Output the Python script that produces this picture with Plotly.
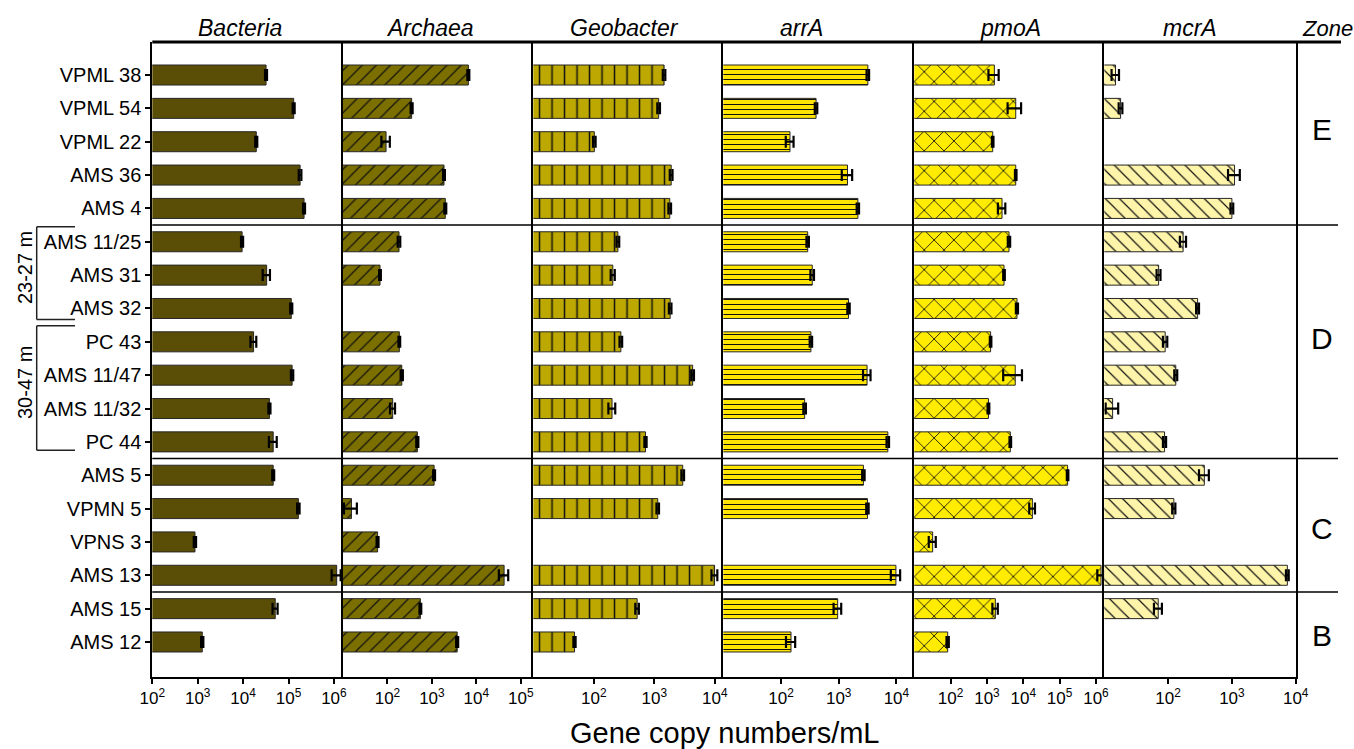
import plotly.graph_objects as go

W, H = 1354, 749
FONT = "Liberation Sans, Arial, sans-serif"

samples = ["VPML 38", "VPML 54", "VPML 22", "AMS 36", "AMS 4",
           "AMS 11/25", "AMS 31", "AMS 32", "PC 43", "AMS 11/47", "AMS 11/32", "PC 44",
           "AMS 5", "VPMN 5", "VPNS 3", "AMS 13",
           "AMS 15", "AMS 12"]

bacteria = [3.2e4, 1.3e5, 1.95e4, 1.8e5, 2.2e5, 9.5e3, 3.3e4, 1.15e5, 1.7e4, 1.2e5,
            3.8e4, 4.6e4, 4.6e4, 1.65e5, 870, 1.15e6, 5.1e4, 1.26e3]
bacteria_sd = [1.6e3, 6.5e3, 1.0e3, 1.2e4, 1.1e4, 500, 6.0e3, 6.0e3, 2.5e3, 7.0e3,
               2.0e3, 9.0e3, 2.3e3, 1.0e4, 50, 2.6e5, 6.5e3, 70]

archaea = [6.6e3, 350, 93, 1.87e3, 2.0e3, 182, 68, None, 185, 210,
           131, 470, 1.12e3, 15.5, 60, 4.2e4, 550, 3.7e3]
archaea_sd = [330, 18, 20, 90, 100, 12, 3, 0, 8, 12,
              17, 25, 55, 5, 3, 1.0e4, 25, 190]

geobacter = [1.45e3, 1.18e3, 102, 1.9e3, 1.8e3, 250, 206, 1.83e3, 280, 4.3e3,
             200, 715, 2.95e3, 1.14e3, None, 9.9e3, 520, 48]
geobacter_sd = [70, 60, 5, 100, 90, 13, 16, 90, 14, 220,
                26, 30, 150, 55, 0, 1.1e3, 35, 2]

arrA = [3.2e3, 405, 143, 1.42e3, 2.15e3, 290, 348, 1.48e3, 330, 3.1e3,
        257, 7.1e3, 2.68e3, 3.15e3, None, 9.8e3, 960, 149]
arrA_sd = [160, 20, 22, 290, 100, 14, 25, 70, 16, 460,
           13, 350, 130, 150, 0, 1.8e3, 145, 27]

pmoA = [1.6e3, 6.2e3, 1.44e3, 6.2e3, 2.6e3, 4.05e3, 2.95e3, 6.7e3, 1.26e3, 6.0e3,
        1.1e3, 4.4e3, 1.66e5, 1.78e4, 32, 1.38e6, 1.7e3, 83]
pmoA_sd = [500, 2.5e3, 70, 300, 600, 300, 150, 450, 60, 3.2e3,
           60, 220, 8.0e3, 3.2e3, 7, 2.9e5, 290, 6]

mcrA = [15, 18, None, 1.1e3, 1.0e3, 172, 71, 290, 90, 132,
        13.5, 88, 370, 123, None, 7.4e3, 70, None]
mcrA_sd = [2, 1.2, 0, 230, 50, 19, 5, 15, 7, 7,
           3, 5, 65, 7, 0, 370, 10, 0]

panel_titles = ["Bacteria", "Archaea", "Geobacter", "arrA", "pmoA", "mcrA"]
panel_values = [bacteria, archaea, geobacter, arrA, pmoA, mcrA]
panel_errors = [bacteria_sd, archaea_sd, geobacter_sd, arrA_sd, pmoA_sd, mcrA_sd]
panel_ranges = [(2, 6.2), (1, 5.28), (1, 4.14), (1, 4.31), (1, 6.23), (1, 4.0)]
panel_ticks = [range(2, 7), range(2, 6), range(2, 5), range(2, 5), range(2, 7), range(2, 5)]

zones = ["E", "D", "C", "B"]
zone_centers = [1.62, 7.9, 13.6, 16.8]
zone_breaks = [4.5, 11.5, 15.5]

depth_groups = ["23-27 m", "30-47 m"]
depth_spans = [(4.55, 7.33), (7.52, 11.25)]

# fill styles of the six panels
styles = [
    dict(color="#5a4e06", shape=""),
    dict(color="#7b6f00", shape="/", size=10, solidity=0.12),
    dict(color="#bca800", shape="|", size=12.5, solidity=0.12),
    dict(color="#ffe400", shape="-", size=5, solidity=0.2),
    dict(color="#ffec00", shape="x", size=14, solidity=0.12),
    dict(color="#fff5aa", shape="\\", size=10, solidity=0.12),
]

# horizontal pixel layout of the panels
edges_px = [152.3, 343, 533.3, 723.3, 914.3, 1104.3, 1295.7]
title_px = [240, 430, 624, 801, 1010, 1190]
top_px, bottom_px = 42, 677
y_dom = [1 - bottom_px / H, 1 - top_px / H]
y_range = [18.05, -0.99]

fig = go.Figure()
layout = {}
for i in range(6):
    n = "" if i == 0 else str(i + 1)
    st = styles[i]
    marker = dict(color=st["color"], line=dict(color="#262626", width=1))
    if st["shape"]:
        marker["pattern"] = dict(shape=st["shape"], fgcolor="#111111",
                                 bgcolor=st["color"], size=st["size"],
                                 solidity=st["solidity"], fillmode="replace")
    fig.add_trace(go.Bar(
        x=panel_values[i], y=samples, orientation="h",
        xaxis="x" + n, yaxis="y" + n, width=0.6, marker=marker,
        error_x=dict(type="data", array=panel_errors[i], visible=True,
                     color="black", thickness=2.2, width=6),
        showlegend=False,
    ))
    lo, hi = panel_ranges[i]
    layout["xaxis" + n] = dict(
        domain=[edges_px[i] / W, edges_px[i + 1] / W], anchor="y" + n,
        type="log", range=[lo, hi],
        tickvals=[10 ** k for k in panel_ticks[i]],
        ticktext=["10<sup>%d</sup>" % k for k in panel_ticks[i]],
        ticks="outside", ticklen=5, tickwidth=2, tickcolor="black",
        tickfont=dict(family=FONT, size=17, color="black"),
        showline=True, linewidth=2, linecolor="black", mirror=False,
        showgrid=False, zeroline=False, automargin=False,
    )
    ycfg = dict(
        domain=y_dom, anchor="x" + n, type="category",
        categoryorder="array", categoryarray=samples, range=y_range,
        showline=True, linewidth=2, linecolor="black", mirror=(i == 5),
        showgrid=False, zeroline=False, automargin=False,
    )
    if i == 0:
        ycfg.update(ticks="outside", ticklen=5, tickwidth=1.5, tickcolor="black",
                    tickfont=dict(family=FONT, size=20, color="black"))
    else:
        ycfg.update(matches="y", showticklabels=False, ticks="")
    layout["yaxis" + n] = ycfg

shapes = []
# heavy top rule across all panels and the zone column
shapes.append(dict(type="line", xref="paper", yref="paper",
                   x0=edges_px[0] / W, x1=1341 / W, y0=y_dom[1], y1=y_dom[1],
                   line=dict(color="black", width=3)))
# zone separators
for yb in zone_breaks:
    shapes.append(dict(type="line", xref="paper", yref="y",
                       x0=edges_px[0] / W, x1=1338 / W, y0=yb, y1=yb,
                       line=dict(color="black", width=1.5)))
# depth brackets
for y0, y1 in depth_spans:
    for (xa, ya, xb, yb) in [(75, y0, 36.7, y0), (36.7, y0, 36.7, y1), (36.7, y1, 75, y1)]:
        shapes.append(dict(type="line", xref="paper", yref="y",
                           x0=xa / W, x1=xb / W, y0=ya, y1=yb,
                           line=dict(color="#222", width=1.5)))

annotations = []
for t, xp in zip(panel_titles, title_px):
    annotations.append(dict(text="<i>%s</i>" % t, xref="paper", yref="paper",
                            x=xp / W, y=1 - 28 / H, xanchor="center", yanchor="middle",
                            showarrow=False, font=dict(family=FONT, size=23, color="black")))
annotations.append(dict(text="<i>Zone</i>", xref="paper", yref="paper",
                        x=1300 / W, y=1 - 28 / H, xanchor="left", yanchor="middle",
                        showarrow=False, font=dict(family=FONT, size=22, color="black")))
for z, yc in zip(zones, zone_centers):
    annotations.append(dict(text=z, xref="paper", yref="y", x=1322 / W, y=yc,
                            xanchor="center", yanchor="middle", showarrow=False,
                            font=dict(family=FONT, size=30, color="black")))
for g, (y0, y1) in zip(depth_groups, depth_spans):
    annotations.append(dict(text=g, xref="paper", yref="y", x=25 / W, y=(y0 + y1) / 2 - 0.15,
                            xanchor="center", yanchor="middle", textangle=-90,
                            showarrow=False, font=dict(family=FONT, size=20, color="black")))
annotations.append(dict(text="Gene copy numbers/mL", xref="paper", yref="paper",
                        x=((edges_px[0] + edges_px[-1]) / 2) / W, y=1 - 733 / H,
                        xanchor="center", yanchor="middle", showarrow=False,
                        font=dict(family=FONT, size=29, color="black")))

fig.update_layout(
    width=W, height=H, margin=dict(l=0, r=0, t=0, b=0),
    paper_bgcolor="white", plot_bgcolor="white",
    bargap=0.4, shapes=shapes, annotations=annotations,
    **layout,
)

fig.write_html("out.html")
